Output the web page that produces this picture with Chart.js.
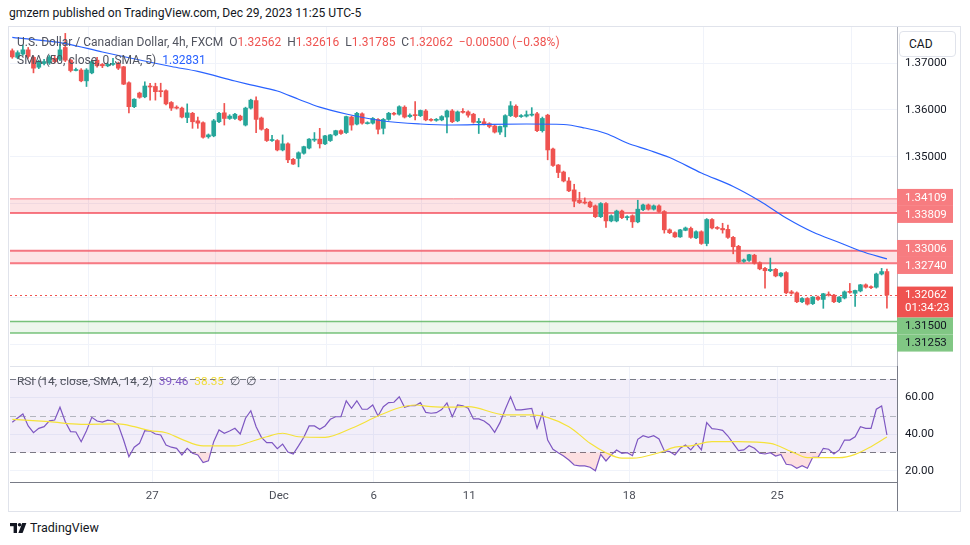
<!DOCTYPE html>
<html>
<head>
<meta charset="utf-8">
<title>USDCAD 4h</title>
<script src="https://cdn.jsdelivr.net/npm/chart.js@4.4.1/dist/chart.umd.min.js"></script>
<style>
  html, body { margin: 0; padding: 0; background: #fff; }
  body { width: 970px; height: 545px; position: relative; overflow: hidden; font-family: Roboto, "Noto Sans", sans-serif; color: #131722; }
  #published { position: absolute; left: 9px; top: 6px; font-size: 12.1px; }
  #frame { position: absolute; left: 8px; top: 26px; width: 951px; height: 484px; border: 1px solid #e0e3eb; }
  canvas { position: absolute; }
  #price { left: 10px; top: 27px; }
  #rsi { left: 10px; top: 366px; }
  .legend { position: absolute; left: 17px; font-size: 12px; color: #50535e; white-space: pre; }
  .red { color: #ef5350; }
  #cad { position: absolute; left: 899px; top: 31px; width: 46px; height: 24px; padding-left: 9px; border: 1px solid #e0e3eb; border-radius: 4px; background: #fff; font-size: 12px; line-height: 24px; }
  #logo { position: absolute; left: 10px; top: 520px; font-size: 12.5px; display: flex; align-items: center; gap: 3px; }
</style>
</head>
<body>
<div id="published">gmzern published on TradingView.com, Dec 29, 2023 11:25 UTC-5</div>
<div id="frame"></div>
<canvas id="price" width="950" height="339"></canvas>
<canvas id="rsi" width="950" height="145"></canvas>
<div class="legend" style="top:35px">U.S. Dollar / Canadian Dollar, 4h, FXCM  O<span class="red">1.32562</span>  H<span class="red">1.32616</span>  L<span class="red">1.31785</span>  C<span class="red">1.32062</span>  <span class="red">−0.00500 (−0.38%)</span></div>
<div class="legend" style="top:53px">SMA (50, close, 0, SMA, 5)  <span style="color:#2962ff" id="smaval"></span></div>
<div class="legend" style="top:374px; font-size:11.8px">RSI (14, close, SMA, 14, 2)  <span style="color:#7e57c2" id="rsival"></span>  <span style="color:#f0dc3a" id="rsismaval"></span>  ∅  ∅</div>
<div id="cad">CAD</div>
<div id="logo"><svg width="17" height="12" viewBox="0 0 17 12"><rect x="0" y="1" width="7" height="3.2" fill="#131722"/><rect x="3.6" y="1" width="3.4" height="10" fill="#131722"/><circle cx="9.6" cy="2.7" r="1.8" fill="#131722"/><polygon points="12.2,1 16.4,1 12.6,11 8.4,11" fill="#131722"/></svg><span>TradingView</span></div>
<script>
// 4h candles, Nov 22 -> Dec 29 2023
const opens = [1.3726,1.3712,1.3719,1.3728,1.3712,1.3691,1.3699,1.3700,1.3710,1.3708,
  1.3733,1.3706,1.3684,1.3685,1.3662,1.3679,1.3706,1.3697,1.3694,1.3697,
  1.3699,1.3692,1.3658,1.3607,1.3636,1.3628,1.3651,1.3650,1.3641,1.3641,
  1.3616,1.3606,1.3604,1.3584,1.3593,1.3577,1.3573,1.3543,1.3545,1.3575,
  1.3594,1.3582,1.3582,1.3587,1.3568,1.3604,1.3620,1.3583,1.3559,1.3535,
  1.3535,1.3515,1.3528,1.3495,1.3497,1.3508,1.3519,1.3536,1.3538,1.3528,
  1.3535,1.3547,1.3556,1.3552,1.3585,1.3570,1.3592,1.3571,1.3572,1.3580,
  1.3561,1.3580,1.3593,1.3591,1.3606,1.3586,1.3590,1.3588,1.3598,1.3580,
  1.3578,1.3579,1.3585,1.3598,1.3577,1.3597,1.3596,1.3591,1.3573,1.3575,
  1.3571,1.3566,1.3553,1.3564,1.3588,1.3608,1.3586,1.3587,1.3589,1.3592,
  1.3556,1.3589,1.3517,1.3483,1.3468,1.3449,1.3430,1.3408,1.3404,1.3404,
  1.3396,1.3373,1.3401,1.3364,1.3364,1.3385,1.3371,1.3375,1.3362,1.3388,
  1.3398,1.3389,1.3396,1.3384,1.3345,1.3339,1.3330,1.3344,1.3348,1.3328,
  1.3341,1.3316,1.3367,1.3350,1.3348,1.3346,1.3329,1.3310,1.3278,1.3280,
  1.3291,1.3275,1.3263,1.3258,1.3261,1.3247,1.3254,1.3213,1.3211,1.3192,
  1.3199,1.3188,1.3202,1.3197,1.3208,1.3206,1.3192,1.3200,1.3214,1.3210,
  1.3215,1.3228,1.3224,1.3223,1.3251,1.32562];
const highs = [1.3730,1.3726,1.3738,1.3733,1.3714,1.3706,1.3708,1.3716,1.3716,1.3740,
  1.3763,1.3708,1.3689,1.3688,1.3688,1.3706,1.3712,1.3699,1.3700,1.3710,
  1.3702,1.3693,1.3660,1.3624,1.3638,1.3660,1.3657,1.3657,1.3657,1.3643,
  1.3618,1.3609,1.3606,1.3613,1.3595,1.3585,1.3575,1.3549,1.3580,1.3595,
  1.3614,1.3590,1.3593,1.3589,1.3606,1.3623,1.3628,1.3585,1.3561,1.3546,
  1.3537,1.3547,1.3530,1.3497,1.3511,1.3523,1.3539,1.3552,1.3561,1.3546,
  1.3548,1.3557,1.3558,1.3587,1.3587,1.3595,1.3594,1.3575,1.3584,1.3582,
  1.3582,1.3595,1.3595,1.3609,1.3609,1.3592,1.3618,1.3600,1.3601,1.3582,
  1.3582,1.3588,1.3600,1.3601,1.3598,1.3603,1.3598,1.3593,1.3582,1.3582,
  1.3573,1.3568,1.3566,1.3590,1.3618,1.3611,1.3590,1.3598,1.3605,1.3595,
  1.3585,1.3591,1.3519,1.3484,1.3470,1.3456,1.3442,1.3425,1.3413,1.3406,
  1.3398,1.3403,1.3403,1.3377,1.3387,1.3387,1.3375,1.3377,1.3408,1.3400,
  1.3400,1.3398,1.3398,1.3386,1.3347,1.3341,1.3346,1.3351,1.3351,1.3343,
  1.3343,1.3369,1.3369,1.3352,1.3359,1.3355,1.3331,1.3312,1.3283,1.3293,
  1.3293,1.3277,1.3265,1.3285,1.3263,1.3254,1.3256,1.3216,1.3213,1.3201,
  1.3201,1.3203,1.3204,1.3210,1.3213,1.3208,1.3203,1.3215,1.3231,1.3217,
  1.3229,1.3230,1.3226,1.3253,1.3263,1.32616];
const lows = [1.3710,1.3709,1.3716,1.3710,1.3679,1.3688,1.3696,1.3697,1.3700,1.3705,
  1.3703,1.3681,1.3683,1.3660,1.3650,1.3677,1.3691,1.3690,1.3692,1.3695,
  1.3686,1.3654,1.3594,1.3605,1.3625,1.3626,1.3621,1.3621,1.3628,1.3611,
  1.3599,1.3602,1.3583,1.3573,1.3561,1.3561,1.3540,1.3540,1.3543,1.3573,
  1.3568,1.3580,1.3580,1.3577,1.3566,1.3602,1.3552,1.3557,1.3533,1.3533,
  1.3513,1.3513,1.3488,1.3484,1.3479,1.3506,1.3517,1.3533,1.3519,1.3526,
  1.3533,1.3545,1.3548,1.3550,1.3557,1.3568,1.3570,1.3570,1.3570,1.3549,
  1.3549,1.3578,1.3589,1.3589,1.3583,1.3584,1.3579,1.3586,1.3577,1.3576,
  1.3576,1.3577,1.3551,1.3573,1.3575,1.3593,1.3585,1.3572,1.3550,1.3568,
  1.3562,1.3551,1.3548,1.3543,1.3586,1.3584,1.3584,1.3585,1.3587,1.3554,
  1.3553,1.3494,1.3480,1.3456,1.3447,1.3426,1.3394,1.3401,1.3400,1.3392,
  1.3371,1.3371,1.3350,1.3362,1.3362,1.3369,1.3366,1.3350,1.3360,1.3386,
  1.3387,1.3387,1.3382,1.3338,1.3337,1.3329,1.3329,1.3343,1.3327,1.3326,
  1.3314,1.3311,1.3347,1.3346,1.3338,1.3327,1.3294,1.3275,1.3276,1.3278,
  1.3272,1.3260,1.3221,1.3256,1.3245,1.3245,1.3209,1.3208,1.3190,1.3190,
  1.3185,1.3186,1.3195,1.3178,1.3204,1.3190,1.3190,1.3198,1.3210,1.3182,
  1.3213,1.3221,1.3220,1.3221,1.3249,1.31785];
const closes = [1.3713,1.3722,1.3728,1.3714,1.3689,1.3703,1.3703,1.3713,1.3703,1.3728,
  1.3706,1.3684,1.3686,1.3662,1.3685,1.3703,1.3694,1.3694,1.3697,1.3699,
  1.3689,1.3655,1.3607,1.3623,1.3627,1.3651,1.3649,1.3639,1.3639,1.3613,
  1.3604,1.3604,1.3585,1.3594,1.3575,1.3572,1.3542,1.3547,1.3577,1.3593,
  1.3582,1.3587,1.3591,1.3579,1.3604,1.3621,1.3580,1.3559,1.3535,1.3537,
  1.3515,1.3528,1.3494,1.3485,1.3509,1.3522,1.3538,1.3538,1.3528,1.3545,
  1.3547,1.3556,1.3550,1.3586,1.3568,1.3593,1.3572,1.3573,1.3582,1.3559,
  1.3580,1.3593,1.3591,1.3607,1.3585,1.3589,1.3588,1.3599,1.3579,1.3578,
  1.3580,1.3586,1.3598,1.3575,1.3596,1.3595,1.3589,1.3574,1.3576,1.3570,
  1.3565,1.3553,1.3565,1.3588,1.3609,1.3586,1.3588,1.3590,1.3591,1.3556,
  1.3582,1.3515,1.3482,1.3467,1.3449,1.3428,1.3406,1.3403,1.3402,1.3394,
  1.3373,1.3401,1.3364,1.3375,1.3385,1.3371,1.3373,1.3362,1.3389,1.3398,
  1.3389,1.3396,1.3384,1.3345,1.3339,1.3330,1.3345,1.3349,1.3329,1.3341,
  1.3316,1.3367,1.3349,1.3348,1.3345,1.3329,1.3309,1.3277,1.3281,1.3292,
  1.3274,1.3262,1.3258,1.3261,1.3247,1.3253,1.3211,1.3210,1.3192,1.3199,
  1.3187,1.3202,1.3197,1.3209,1.3206,1.3192,1.3202,1.3213,1.3212,1.3216,
  1.3228,1.3223,1.3222,1.3251,1.32562,1.32062];

// SMA(50) on close, sampled along the drawn line
const smaBars = [0,10,17,30,35,42,45,50,54,58,63,70,77,83,90,97,104,108,112,116,120,124,130,136,141,146,151,156,160,165];
const smaValues = [1.37547,1.37413,1.37234,1.36926,1.36821,1.36617,1.36536,1.36404,1.36228,1.36060,
  1.35915,1.35766,1.35702,1.35681,1.35696,1.35702,1.35692,1.35617,1.35500,1.35298,
  1.35149,1.34989,1.34660,1.34372,1.34064,1.33702,1.33404,1.33181,1.33000,1.32831];

// RSI(14), one value per bar
const rsiValues = [46.4,48.7,50.9,44.4,40.7,43.1,44.0,47.2,47.6,54.6,
  46.7,41.3,41.1,35.8,41.8,49.1,47.1,46.5,47.5,47.1,
  44.9,36.7,27.6,32.8,34.9,41.8,41.6,40.0,39.5,34.0,
  32.8,32.2,28.6,32.2,29.5,28.6,24.4,25.4,35.8,42.2,
  40.4,41.6,43.1,40.0,48.6,52.7,44.0,38.2,35.3,35.3,
  32.0,34.5,30.2,29.1,33.5,38.2,44.4,44.4,42.6,44.4,
  48.0,49.4,49.4,58.1,54.0,58.1,53.5,53.5,55.8,49.8,
  54.9,57.1,57.3,60.3,54.6,55.4,55.4,57.1,51.8,51.3,
  51.6,53.3,56.9,49.4,55.8,55.4,54.0,48.2,48.2,47.1,
  44.9,40.9,46.2,53.5,60.3,53.1,53.1,53.6,54.0,43.1,
  51.3,36.7,31.7,29.8,28.0,25.8,23.1,22.6,22.6,21.9,
  20.0,28.9,25.3,28.6,31.3,29.5,29.8,28.2,37.1,39.1,
  38.2,39.1,37.3,30.9,30.4,28.6,32.2,34.0,31.3,34.9,
  31.3,46.2,42.9,42.6,42.0,38.9,34.9,30.9,31.3,33.6,
  32.2,29.5,29.1,29.8,28.0,28.9,23.5,23.1,21.3,22.7,
  21.3,27.3,27.3,32.2,31.7,29.1,31.3,36.7,36.7,38.5,
  44.0,43.1,43.1,53.5,55.3,39.46];

// SMA(14) of RSI, sampled along the yellow line
const rsiSmaBars = [0,7,13,20,23,26,29,32,36,42,45,48,51,54,59,64,69,73,76,79,83,86,93,98,105,109,112,115,117,122,125,128,132,137,143,147,150,156,159,162,165];
const rsiSmaValues = [48.0,46.7,45.3,45.5,44.0,41.8,40.7,37.1,33.5,33.5,35.8,38.5,40.4,38.5,38.2,43.1,49.8,54.3,55.8,54.9,
  54.6,54.9,50.4,50.4,44.0,34.9,29.8,26.8,26.8,29.8,32.8,33.5,35.8,35.8,34.9,30.4,27.1,27.1,28.9,33.1,38.35];

const dateTickBars = [26.4, 50.3, 68.2, 86.2, 116.4, 144.3];
const dateTickLabels = ["27", "Dec", "6", "11", "18", "25"];
const priceTicks = [1.31, 1.32, 1.33, 1.34, 1.35, 1.36, 1.37];
const rsiTicks = [20, 40, 60];
const rsiLevels = [70, 50, 30];

const resistanceZones = [[1.34109, 1.33809], [1.33006, 1.32740]];
const supportZone = [1.31500, 1.31253];
const lastPrice = 1.32062;
const barCountdown = "01:34:23";

const UP = "#26a69a", DOWN = "#ef5350";
const GRID = "#f0f3fa";
const xMin = -0.43, xMax = 166.9;

Chart.defaults.font.family = "Roboto, 'Noto Sans', sans-serif";
Chart.defaults.font.size = 11.5;
Chart.defaults.color = "#131722";

document.getElementById("smaval").textContent = smaValues[smaValues.length - 1].toFixed(5);
document.getElementById("rsival").textContent = rsiValues[rsiValues.length - 1].toFixed(2);
document.getElementById("rsismaval").textContent = rsiSmaValues[rsiSmaValues.length - 1].toFixed(2);

const bars = opens.map((o, i) => i);
function candleColour(ctx) {
  const i = ctx.dataIndex;
  return closes[i] >= opens[i] ? UP : DOWN;
}
// no label overflow padding: chart area must fill the canvas
function noPad(s) {
  s.paddingTop = 0; s.paddingBottom = 0; s.paddingLeft = 0; s.paddingRight = 0;
}

// zones + last price line, under the candles
const zonePlugin = {
  id: "zones",
  beforeDatasetsDraw(chart) {
    const { ctx, chartArea: a, scales: { y } } = chart;
    ctx.save();
    resistanceZones.forEach(function(z, k) {
      const y1 = y.getPixelForValue(z[0]), y2 = y.getPixelForValue(z[1]);
      ctx.fillStyle = "rgba(242, 54, 69, 0.14)";
      ctx.fillRect(a.left, y1, a.width, y2 - y1);
      ctx.strokeStyle = "rgba(242, 54, 69, 0.65)";
      ctx.lineWidth = k === 0 ? 1 : 2;
      ctx.beginPath(); ctx.moveTo(a.left, y1); ctx.lineTo(a.right, y1); ctx.stroke();
      ctx.lineWidth = 2;
      ctx.beginPath(); ctx.moveTo(a.left, y2); ctx.lineTo(a.right, y2); ctx.stroke();
    });
    const g1 = y.getPixelForValue(supportZone[0]), g2 = y.getPixelForValue(supportZone[1]);
    ctx.fillStyle = "rgba(76, 175, 80, 0.1)";
    ctx.fillRect(a.left, g1, a.width, g2 - g1);
    ctx.strokeStyle = "rgba(76, 175, 80, 0.75)";
    ctx.lineWidth = 1.5;
    [g1, g2].forEach(function(v) {
      ctx.beginPath(); ctx.moveTo(a.left, v); ctx.lineTo(a.right, v); ctx.stroke();
    });
    const lp = Math.round(y.getPixelForValue(lastPrice)) + 0.5;
    ctx.strokeStyle = DOWN;
    ctx.lineWidth = 1;
    ctx.setLineDash([2, 3]);
    ctx.beginPath(); ctx.moveTo(a.left, lp); ctx.lineTo(a.right, lp); ctx.stroke();
    ctx.restore();
  }
};

// coloured price tags on the right scale
const tagPlugin = {
  id: "tags",
  afterDraw(chart) {
    const { ctx, chartArea: a, scales: { y } } = chart;
    const h = 17;
    const tags = [
      { p: resistanceZones[0][0], bg: "#f77c80", fg: "#fff" },
      { p: resistanceZones[0][1], bg: "#f77c80", fg: "#fff" },
      { p: resistanceZones[1][0], bg: "#f77c80", fg: "#fff" },
      { p: resistanceZones[1][1], bg: "#f77c80", fg: "#fff" },
      { p: lastPrice, bg: "#ef5350", fg: "#fff", sub: barCountdown },
      { p: supportZone[0], bg: "#81c784", fg: "#131722" },
      { p: supportZone[1], bg: "#81c784", fg: "#131722" }
    ];
    tags.forEach(function(t) {
      t.c = y.getPixelForValue(t.p);
      t.top = t.sub ? t.c - 8.5 : t.c - h / 2;
      t.h = t.sub ? 31 : h;
    });
    // split overlapping neighbours, then push down under the last-price tag
    for (let i = 1; i < tags.length; i++) {
      const p = tags[i - 1], t = tags[i];
      if (p.sub || t.sub) continue;
      const over = p.top + p.h - t.top;
      if (over > 0) { p.top -= over / 2; t.top += over / 2; }
    }
    for (let i = 1; i < tags.length; i++) {
      const p = tags[i - 1], t = tags[i];
      if (t.top < p.top + p.h) t.top = p.top + p.h;
    }
    ctx.save();
    ctx.font = "11.5px Roboto, 'Noto Sans', sans-serif";
    ctx.textBaseline = "middle";
    tags.forEach(function(t) {
      ctx.fillStyle = t.bg;
      ctx.fillRect(a.right, t.top, 56, t.h);
      ctx.fillStyle = t.fg;
      ctx.fillText(t.p.toFixed(5), a.right + 8, t.top + 9);
      if (t.sub) ctx.fillText(t.sub, a.right + 8, t.top + 22);
    });
    ctx.restore();
  }
};

const priceChart = new Chart(document.getElementById("price"), {
  type: "bar",
  data: {
    datasets: [
      {
        type: "line",
        label: "SMA 50",
        data: smaBars.map((b, i) => ({ x: b, y: smaValues[i] })),
        borderColor: "#2962ff",
        borderWidth: 1.2,
        pointRadius: 0,
        cubicInterpolationMode: "monotone",
        order: 0
      },
      {
        label: "body",
        data: bars.map(i => ({ x: i, y: [opens[i], closes[i]] })),
        backgroundColor: candleColour,
        barThickness: 4,
        minBarLength: 1,
        grouped: false,
        order: 1
      },
      {
        label: "wick",
        data: bars.map(i => ({ x: i, y: [lows[i], highs[i]] })),
        backgroundColor: candleColour,
        barThickness: 1,
        grouped: false,
        order: 2
      }
    ]
  },
  options: {
    responsive: false,
    animation: false,
    layout: { padding: 0 },
    plugins: { legend: { display: false }, tooltip: { enabled: false } },
    scales: {
      x: {
        type: "linear",
        min: xMin,
        max: xMax,
        offset: false,
        afterBuildTicks: s => { s.ticks = dateTickBars.map(v => ({ value: v })); },
        afterFit: s => { s.height = 0; noPad(s); },
        ticks: { display: false },
        grid: { color: GRID, drawTicks: false },
        border: { display: false }
      },
      y: {
        position: "right",
        min: 1.30553,
        max: 1.37766,
        afterBuildTicks: s => { s.ticks = priceTicks.map(v => ({ value: v })); },
        afterFit: s => { s.width = 63; noPad(s); },
        ticks: { padding: 8, color: "#131722", callback: v => (v >= 1.345 ? v.toFixed(5) : "") },
        grid: { color: GRID, drawTicks: false },
        border: { color: "#b2b5be" }
      }
    }
  },
  plugins: [zonePlugin, tagPlugin]
});

// RSI band, level lines and pane borders
const rsiPlugin = {
  id: "rsiBand",
  beforeDatasetsDraw(chart) {
    const { ctx, chartArea: a, scales: { y } } = chart;
    const top = y.getPixelForValue(rsiLevels[0]), bottom = y.getPixelForValue(rsiLevels[2]);
    ctx.save();
    ctx.fillStyle = "rgba(126, 87, 194, 0.1)";
    ctx.fillRect(a.left, top, a.width, bottom - top);
    ctx.setLineDash([6, 4]);
    ctx.lineWidth = 1;
    rsiLevels.forEach(function(l) {
      const py = Math.round(y.getPixelForValue(l)) + 0.5;
      ctx.strokeStyle = l === 50 ? "#b2b5be" : "#787b86";
      ctx.beginPath(); ctx.moveTo(a.left, py); ctx.lineTo(a.right, py); ctx.stroke();
    });
    ctx.restore();
  },
  afterDraw(chart) {
    const { ctx, chartArea: a } = chart;
    ctx.save();
    ctx.strokeStyle = "#e0e3eb";
    ctx.lineWidth = 1;
    ctx.beginPath(); ctx.moveTo(a.left, 0.5); ctx.lineTo(a.right, 0.5); ctx.stroke();
    ctx.strokeStyle = "#787b86";
    ctx.beginPath(); ctx.moveTo(a.right + 0.5, a.bottom); ctx.lineTo(a.right + 0.5, chart.height); ctx.stroke();
    ctx.restore();
  }
};

const rsiChart = new Chart(document.getElementById("rsi"), {
  type: "line",
  data: {
    datasets: [
      {
        label: "RSI SMA",
        data: rsiSmaBars.map((b, i) => ({ x: b, y: rsiSmaValues[i] })),
        borderColor: "#f5e23a",
        borderWidth: 1.2,
        pointRadius: 0,
        cubicInterpolationMode: "monotone"
      },
      {
        label: "RSI",
        data: rsiValues.map((v, i) => ({ x: i, y: v })),
        borderColor: "#7e57c2",
        borderWidth: 1.2,
        pointRadius: 0,
        tension: 0,
        fill: { target: { value: 30 }, above: "rgba(0,0,0,0)", below: "rgba(242, 54, 69, 0.16)" }
      }
    ]
  },
  options: {
    responsive: false,
    animation: false,
    layout: { padding: 0 },
    plugins: { legend: { display: false }, tooltip: { enabled: false } },
    scales: {
      x: {
        type: "linear",
        min: xMin,
        max: xMax,
        offset: false,
        afterBuildTicks: s => { s.ticks = dateTickBars.map(v => ({ value: v })); },
        afterFit: s => { s.height = 29; noPad(s); },
        ticks: { padding: 7, color: "#4a4d57", autoSkip: false, maxRotation: 0, callback: (v, i) => dateTickLabels[i] },
        grid: { color: GRID, drawTicks: false },
        border: { color: "#787b86" }
      },
      y: {
        position: "right",
        min: 13.84,
        max: 77.06,
        afterBuildTicks: s => { s.ticks = rsiTicks.map(v => ({ value: v })); },
        afterFit: s => { s.width = 63; noPad(s); },
        ticks: { padding: 8, color: "#131722", callback: v => v.toFixed(2) },
        grid: { color: GRID, drawTicks: false },
        border: { color: "#787b86" }
      }
    }
  },
  plugins: [rsiPlugin]
});
</script>
</body>
</html>
